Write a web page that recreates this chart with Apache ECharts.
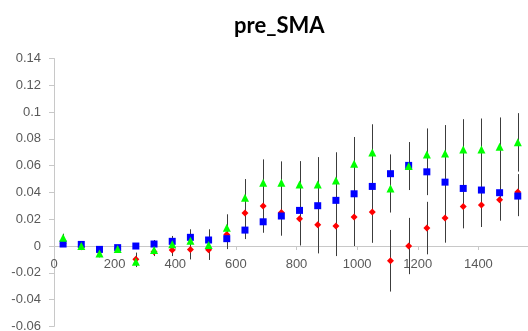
<!DOCTYPE html>
<html><head><meta charset="utf-8">
<script src="https://cdn.jsdelivr.net/npm/echarts@6/dist/echarts.min.js"></script>
<style>html,body{margin:0;padding:0;background:#fff}#c{width:528px;height:331px}</style>
</head><body><div id="c"></div>
<script>
const titleText = 'pre_SMA';
const xValues = [30,90,150,210,270,330,390,450,510,570,630,690,750,810,870,930,990,1050,1110,1170,1230,1290,1350,1410,1470,1530];
const greenValues = [0.0062,0.0,-0.0055,-0.0022,-0.0117,-0.003,0.0013,0.004,0.0007,0.0137,0.036,0.0472,0.0472,0.046,0.046,0.049,0.0614,0.0699,0.043,0.0597,0.0684,0.0691,0.0721,0.0721,0.0741,0.0774];
const greenErrors = [0.003,0.003,0.003,0.003,0.004,0.003,0.004,0.006,0.007,0.01,0.014,0.0175,0.016,0.0174,0.0204,0.021,0.02,0.021,0.018,0.0179,0.0194,0.0212,0.0226,0.0231,0.0219,0.0218];
const blueValues = [0.0015,0.0012,-0.0025,-0.0012,0.0,0.0015,0.0035,0.0065,0.0045,0.0055,0.0119,0.0181,0.0224,0.0266,0.0301,0.0341,0.039,0.0445,0.054,0.0602,0.0554,0.0477,0.043,0.0418,0.0398,0.0373];
const blueErrors = [0.002,0.002,0.002,0.002,0.002,0.003,0.004,0.006,0.008,0.007,0.0067,0.0082,0.0147,0.02,0.02,0.021,0.022,0.024,0.0144,0.0172,0.0174,0.02,0.02,0.02,0.018,0.015];
const redValues = [0.002,-0.0005,-0.004,-0.002,-0.0099,-0.0042,-0.003,-0.0025,-0.0028,0.0087,0.0246,0.0298,0.0251,0.0204,0.0159,0.0149,0.0216,0.0254,-0.011,0.0,0.0134,0.0209,0.0296,0.0306,0.0346,0.0403];
const redErrors = [0.002,0.002,0.002,0.002,0.005,0.0033,0.0045,0.0075,0.0076,0.011,0.012,0.015,0.016,0.02,0.0214,0.0224,0.0216,0.023,0.023,0.021,0.0196,0.0184,0.0164,0.0164,0.0157,0.0134];

function errorSeries(vals, errs) {
  return {
    type: 'custom',
    data: xValues.map((x, i) => [x, vals[i] - errs[i], vals[i] + errs[i]]),
    encode: { x: 0, y: [1, 2] },
    z: 1, silent: true,
    renderItem(params, api) {
      const lo = api.coord([api.value(0), api.value(1)]);
      const hi = api.coord([api.value(0), api.value(2)]);
      const x = Math.round(lo[0]) + 0.5;
      return { type: 'line', shape: { x1: x, y1: lo[1], x2: x, y2: hi[1] },
        style: { stroke: '#3c3c3c', lineWidth: 1 } };
    }
  };
}
function pointSeries(vals, symbol, size, color, z) {
  return { type: 'scatter', data: xValues.map((x, i) => [x, vals[i]]), symbol, symbolSize: size,
    itemStyle: { color, opacity: 1 }, z, silent: true, animation: false };
}

const chart = echarts.init(document.getElementById('c'), null, { renderer: 'canvas' });
const axisCol = '#c8c8c8';
const gLeft = 54, gRight = -11, gTop = 58.5, zeroY = 246, gBottom = 4.6;
chart.setOption({
  animation: false,
  backgroundColor: '#ffffff',
  title: { text: titleText, left: 229, top: 10,
    textStyle: { fontFamily: 'Lato', fontWeight: 'bold', fontSize: 22, color: '#000' } },
  grid: [
    { left: gLeft, right: gRight, top: gTop, bottom: gBottom, containLabel: false, outerBoundsMode: 'none' },
    { left: gLeft, right: gRight, top: gTop, height: zeroY - gTop, containLabel: false, outerBoundsMode: 'none' }
  ],
  xAxis: [
    { gridIndex: 0, type: 'value', min: 0, max: 1600, interval: 200, show: false },
    { gridIndex: 1, type: 'value', min: 0, max: 1600, interval: 200, position: 'bottom',
      axisLine: { show: true, onZero: false, lineStyle: { color: axisCol } },
      axisTick: { show: true, length: 4, lineStyle: { color: axisCol } },
      axisLabel: { margin: 12, color: '#595959', fontFamily: 'Liberation Sans', fontSize: 13,
        showMaxLabel: false, formatter: v => String(v) },
      splitLine: { show: false } }
  ],
  yAxis: [
    { gridIndex: 0, type: 'value', min: -0.06, max: 0.14, interval: 0.02,
      axisLine: { show: true, onZero: false, lineStyle: { color: axisCol } },
      axisTick: { show: true, length: 5, lineStyle: { color: axisCol } },
      axisLabel: { margin: 13, color: '#595959', fontFamily: 'Liberation Sans', fontSize: 13,
        formatter: v => String(Math.round(v * 100) / 100) },
      splitLine: { show: false } },
    { gridIndex: 1, type: 'value', min: 0, max: 1, show: false }
  ],
  series: [
    errorSeries(redValues, redErrors),
    errorSeries(blueValues, blueErrors),
    errorSeries(greenValues, greenErrors),
    pointSeries(redValues, 'diamond', 7, '#ff0000', 3),
    pointSeries(blueValues, 'rect', 7, '#0000ff', 4),
    pointSeries(greenValues, 'triangle', 8, '#00ff00', 5)
  ]
});
</script></body></html>
